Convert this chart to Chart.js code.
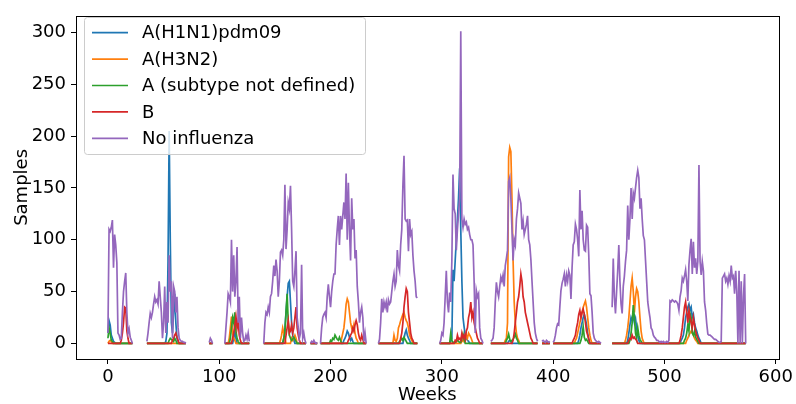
<!DOCTYPE html>
<html>
<head>
<meta charset="utf-8">
<script src="https://cdn.jsdelivr.net/npm/chart.js@4.4.0/dist/chart.umd.min.js"></script>
<style>
body { margin: 0; background: #fff; }
</style>
</head>
<body>
<canvas id="fluChart" width="796" height="404"></canvas>
<script>
const seriesNames = ['A(H1N1)pdm09', 'A(H3N2)', 'A (subtype not defined)', 'B', 'No influenza'];
const seriesColors = ['#1f77b4', '#ff7f0e', '#2ca02c', '#d62728', '#9467bd'];
const xTicks = [0, 100, 200, 300, 400, 500, 600];
const yTicks = [0, 50, 100, 150, 200, 250, 300];

// weekly sample counts, one block per run of reported weeks: [first week, values]
const noInfluenza = [
  [0, [10,110,108,112,119,73,105,95,78,10,8,4,5,30,50,60,68,30,10,14,6,3,0]],
  [35, [2,10,20,29,25,30,38,45,40,42,38,60,45,30,5,20,55,10,40,20,85,50,60,5,55,50,30,45,15,5,3,2,2,1,1,0]],
  [91, [1,5,3,0]],
  [105, [0,15,30,48,45,40,100,50,85,45,60,93,20,45,5,25,10,2,3,8,4,10,2]],
  [140, [0,20,30,28,35,30,45,48,60,75,65,81,70,45,60,88,90,85,100,153,91,110,136,130,152,110,60,55,70,89,25,15,5,10,76,5,10,3,0]],
  [182, [0,2,1,3,1,0,1]],
  [191, [0,15,25,28,30,25,45,57,45,35,50,60,67,67,95,110,123,95,123,110,123,136,120,164,100,155,110,80,140,110,120,82,90,55,40,20,30,35,25,2,10,0]],
  [243, [0,4,20,43,30,40,35,40,30,42,38,40,50,60,67,55,60,90,75,70,95,110,152,181,120,118,119,89,120,105,108,85,70,60,45,44]],
  [298, [0,3,10,8,20,45,70,40,30,49,40,80,163,130,125,90,110,125,140,301,120,112,120,115,117,110,112,105,100,100,95,60,10,51,45,48,15,5,3,0]],
  [344, [2,3,5,15,40,59,50,45,55,64,60,66,55,75,82,90,156,160,140,110,80,100,95,120,130,145,140,135,110,118,105,110,115,123,100,95,81,60,40,20,10,5,2]],
  [390, [2,3,2,1,3,2,1,2]],
  [400, [1,3,8,15,19,18,35,51,58,62,67,55,66,60,70,66,43,73,95,98,115,110,100,84,148,110,128,100,90,89,114,112,85,48,46,30,10,5,3,2,1,2,1,0]],
  [453, [35,82,45,29,50,70,95,60,38,29,55,65,79,90,133,100,120,150,120,145,140,150,160,167,160,130,140,120,104,100,
         80,60,40,32,25,15,13,8,6,5,3,3,2,1,2,1,2,1,1,2,1,3,
         41,40,42,41,40,41,40,38,32,45,51,63,60,65,71,60,41,76,90,101,67,98,73,82,67,79,172,79,66,79,
         70,40,32,19,9,8,8,7,6,5,4,4,3,2,1,1,2,63,65,67,60,63,57,65,60,75,63,65,48,70,50,0,70,0,60,0,45,67,0]]
];

const h1n1 = [
  [0, [10,22,18,8,5,2,1]],
  [52, [2,10,80,205,100,20,10,30,48,20,5,2]],
  [113, [5,12,5]],
  [158, [5,15,30,45,58,60,40,20,8,3]],
  [212, [3,5,8,12,10,6,3,5,2]],
  [266, [5,10,13,8,5,3]],
  [307, [0,2,5,71,60,80,100,120,140,169,110,60,25,16,8,5,3,2]],
  [360, [2,3,2]],
  [423, [3,8,15,20,25,28,24,18,10,4]],
  [467, [3,10,18,25,22,26,20,24,15,8,3]],
  [515, [3,5,8,15,25,30,35,38,32,35,25,28,20,15,12,8,5,3]]
];

const h3n2 = [
  [1, [2,3,2]],
  [109, [5,15,26,10,5,3]],
  [155, [3,8,15,10,5]],
  [165, [5,3,5,8,5]],
  [210, [5,10,15,25,38,43,40,30,20,15,12,18,10,5,3]],
  [257, [8,3,2,5,15,18,22,25,28,30,25,22,20,15,8,5,3]],
  [318, [3,2,5,3,8,5,10,8,6,3]],
  [357, [3,5,20,180,189,185,140,80,40,20,10,5,3]],
  [420, [3,5,10,15,20,25,30,35,38,41,35,25,15,8,3]],
  [465, [3,8,15,25,40,55,63,50,30,45,53,50,40,25,12,5,2]],
  [520, [3,5,8,10,12,10,8,5,3,2]]
];

const notSubtyped = [
  [0, [5,15,10,3,2]],
  [55, [3,5,4,3,2,5,3]],
  [110, [5,15,25,20,30,12,5,2]],
  [158, [5,10,30,48,20,8,5,3,4,6,4,2]],
  [200, [3,2,5,4,8,6,4,3,6,3]],
  [262, [2,3,5,3,6,4,2]],
  [308, [10,3,1,1,1,2,3,2,1,1,5,9,4]],
  [358, [3,5,9,4,2,3,4,6,9,5,3]],
  [425, [3,8,16,6,3,4,2]],
  [469, [3,10,20,37,25,10,5,15,8,4,2]],
  [518, [3,5,10,18,12,29,25,10,8,12,6,4,2]]
];

const fluB = [
  [12, [3,10,20,35,34,12,5]],
  [58, [3,5,8,10,6,3]],
  [112, [5,10,18,26,15,22,8,3]],
  [160, [8,15,22,10,12,18,10,15,25,35,15,8,3]],
  [216, [3,5,8,10,15,12,18,22,18,10,5,3,8,4]],
  [263, [5,10,20,35,45,53,50,30,20,10,5,3]],
  [312, [3,2,8,4,5,3,10,5,8,4,12,15,25,30,40,25,30,20,15,10,5,3]],
  [364, [3,10,20,30,40,45,55,67,60,45,40,30,25,20,15,10,5,3]],
  [418, [3,5,8,15,20,28,32,25,30,33,28,20,12,8,4]],
  [468, [3,5,4,8,5,6,4,3]],
  [514, [3,8,15,25,35,40,30,20,32,25,20,15,25,18,12,8,5,3]]
];

// weeks with data; gaps between them stay empty
const seasons = noInfluenza.map(([s, v]) => [s, s + v.length - 1]);

function toPoints(blocks) {
  const lookup = {};
  blocks.forEach(([s, vals]) => vals.forEach((v, i) => { lookup[s + i] = v; }));
  const pts = [];
  seasons.forEach(([a, b]) => {
    for (let w = a; w <= b; w++) pts.push({ x: w, y: lookup[w] ?? 0 });
    pts.push({ x: b + 0.5, y: null });
  });
  return pts;
}

const allSeries = [h1n1, h3n2, notSubtyped, fluB, noInfluenza];

const FONT = 'DejaVu Sans';
const FS = 18;
Chart.defaults.font.family = FONT;
Chart.defaults.color = '#000';

const frameAndLegend = {
  id: 'frameAndLegend',
  afterDatasetsDraw(chart) {
    const { ctx, chartArea: a } = chart;
    ctx.save();
    ctx.strokeStyle = '#000';
    ctx.lineWidth = 1;
    ctx.strokeRect(Math.round(a.left) + 0.5, Math.round(a.top) + 0.5,
      Math.round(a.right - a.left), Math.round(a.bottom - a.top));

    // legend box, upper left
    const bx = 84.5, by = 17.5, bw = 281, bh = 137;
    ctx.beginPath();
    ctx.roundRect(bx, by, bw, bh, 3);
    ctx.fillStyle = 'rgba(255,255,255,0.8)';
    ctx.fill();
    ctx.strokeStyle = '#cccccc';
    ctx.stroke();
    ctx.font = FS + 'px "' + FONT + '"';
    ctx.textBaseline = 'middle';
    chart.data.datasets.forEach((ds, i) => {
      const y = 32.7 + i * 26.4;
      ctx.beginPath();
      ctx.moveTo(92, y);
      ctx.lineTo(128, y);
      ctx.strokeStyle = ds.borderColor;
      ctx.lineWidth = 1.7;
      ctx.stroke();
      ctx.fillStyle = '#000';
      ctx.fillText(ds.label, 142, y + 1);
    });
    ctx.restore();
  }
};

new Chart(document.getElementById('fluChart').getContext('2d'), {
  type: 'line',
  data: {
    datasets: allSeries.map((blocks, i) => ({
      label: seriesNames[i],
      data: toPoints(blocks),
      borderColor: seriesColors[i],
      backgroundColor: seriesColors[i],
      borderWidth: 1.7,
      pointRadius: 0,
      tension: 0,
      spanGaps: false,
      order: allSeries.length - 1 - i
    }))
  },
  options: {
    responsive: false,
    animation: false,
    layout: { padding: { top: 9, right: 16, left: 0, bottom: 0 } },
    plugins: { legend: { display: false }, tooltip: { enabled: false } },
    scales: {
      x: {
        type: 'linear',
        min: -28.7,
        max: 602.7,
        afterBuildTicks: s => { s.ticks = xTicks.map(v => ({ value: v })); },
        afterFit: s => { s.height = 45; },
        grid: { drawOnChartArea: false, drawTicks: true, tickLength: 5, color: '#000' },
        border: { display: false },
        ticks: { font: { size: FS }, padding: 3, maxRotation: 0, color: '#000' },
        title: { display: true, text: 'Weeks', font: { size: FS, lineHeight: 1 }, padding: 0, color: '#000' }
      },
      y: {
        min: -15,
        max: 316,
        afterBuildTicks: s => { s.ticks = yTicks.map(v => ({ value: v })); },
        afterFit: s => { s.width = 76; },
        grid: { drawOnChartArea: false, drawTicks: true, tickLength: 5, color: '#000' },
        border: { display: false },
        ticks: { font: { size: FS }, padding: 5, color: '#000' },
        title: { display: true, text: 'Samples', font: { size: FS, lineHeight: 1 }, padding: { top: 13, bottom: 0 }, color: '#000' }
      }
    }
  },
  plugins: [frameAndLegend]
});
</script>
</body>
</html>
